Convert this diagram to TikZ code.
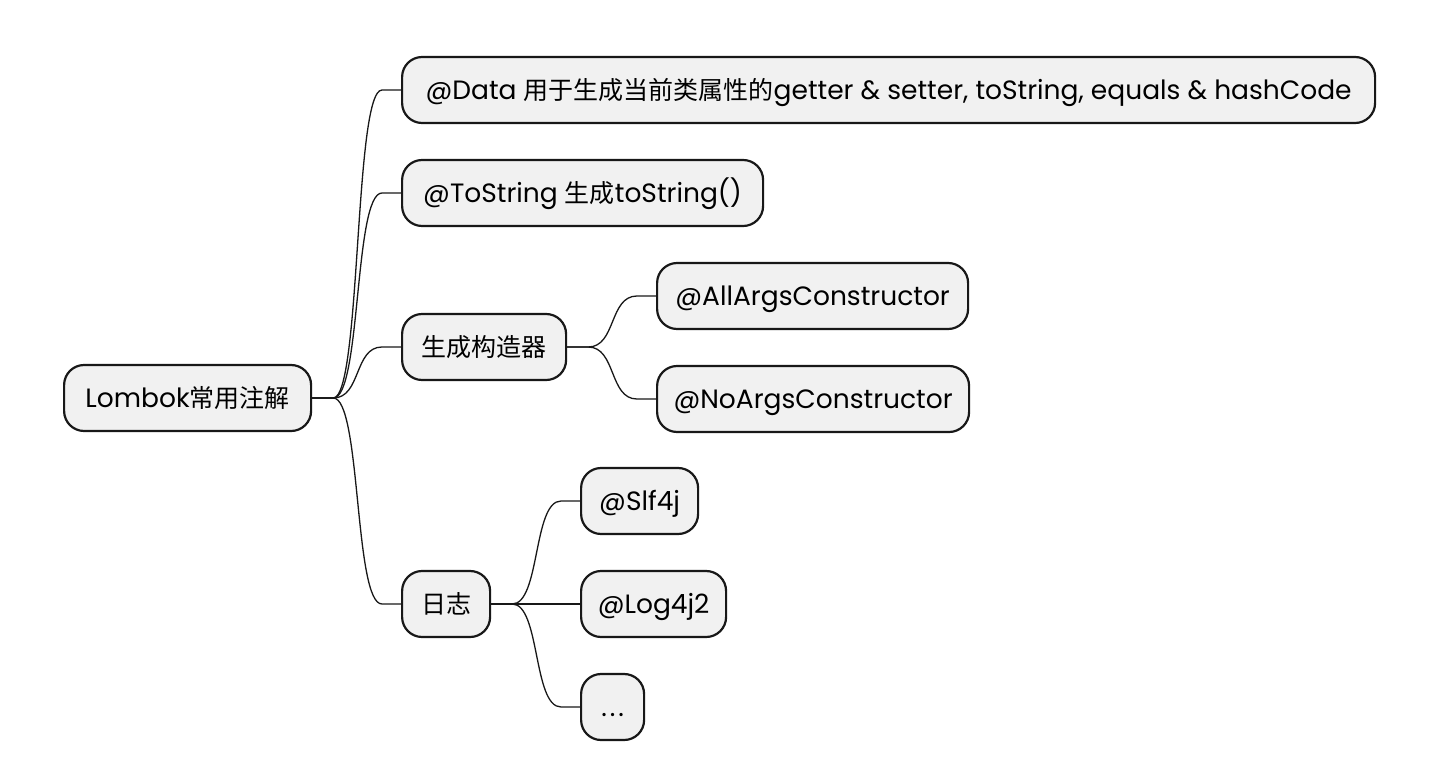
\documentclass[tikz,border=0pt]{standalone}
\usepackage{fontspec}
\setmainfont{Poppins}
\newfontfamily\cjk{Noto Sans CJK SC}
\usetikzlibrary{calc}
\definecolor{boxfill}{HTML}{F1F1F1}
\definecolor{boxline}{HTML}{181818}
\newcommand{\zh}[1]{{\cjk\fontsize{25}{28}\selectfont #1}}
\tikzset{
  mm/.style={draw=boxline, fill=boxfill, line width=2.2pt, rounded corners=20pt,
    minimum height=66pt, inner xsep=0pt, inner ysep=0pt, text height=24pt, text depth=5pt,
    anchor=west, font=\fontsize{26.5}{28}\selectfont},
  conn/.style={draw=boxline, line width=1.3pt}
}
\begin{document}
\begin{tikzpicture}[x=1pt,y=-1pt]
\useasboundingbox (0,0) rectangle (1456,776);
\node[mm, minimum width=247pt] (root) at (63,398) {Lombok\zh{常用注解}};
\node[mm, minimum width=973pt] (data) at (401,90) {@Data \zh{用于生成当前类属性的}getter \& setter, toString, equals \& hashCode};
\node[mm, minimum width=361pt] (tostr) at (401,193) {@ToString \zh{生成}toString()};
\node[mm, minimum width=164pt] (ctor) at (401,347) {\zh{生成构造器}};
\node[mm, minimum width=311pt] (all) at (656,296) {@AllArgsConstructor};
\node[mm, minimum width=312pt] (no) at (656,399) {@NoArgsConstructor};
\node[mm, minimum width=88pt] (log) at (401,604) {\zh{日志}};
\node[mm, minimum width=117pt] (slf) at (580,501) {@Slf4j};
\node[mm, minimum width=145pt] (l4j) at (580,604) {@Log4j2};
\node[mm, minimum width=63pt] (etc) at (580,707) {.\kern3pt.\kern3pt.};
\foreach \a/\b in {root/data,root/tostr,root/ctor,root/log,ctor/all,ctor/no,log/slf,log/l4j,log/etc}{
  \draw[conn] (\a.east) -- ++(21,0) .. controls +(28,0) and +(-28,0) .. ($(\b.west)+(-19,0)$) -- (\b.west);
}
\end{tikzpicture}
\end{document}
